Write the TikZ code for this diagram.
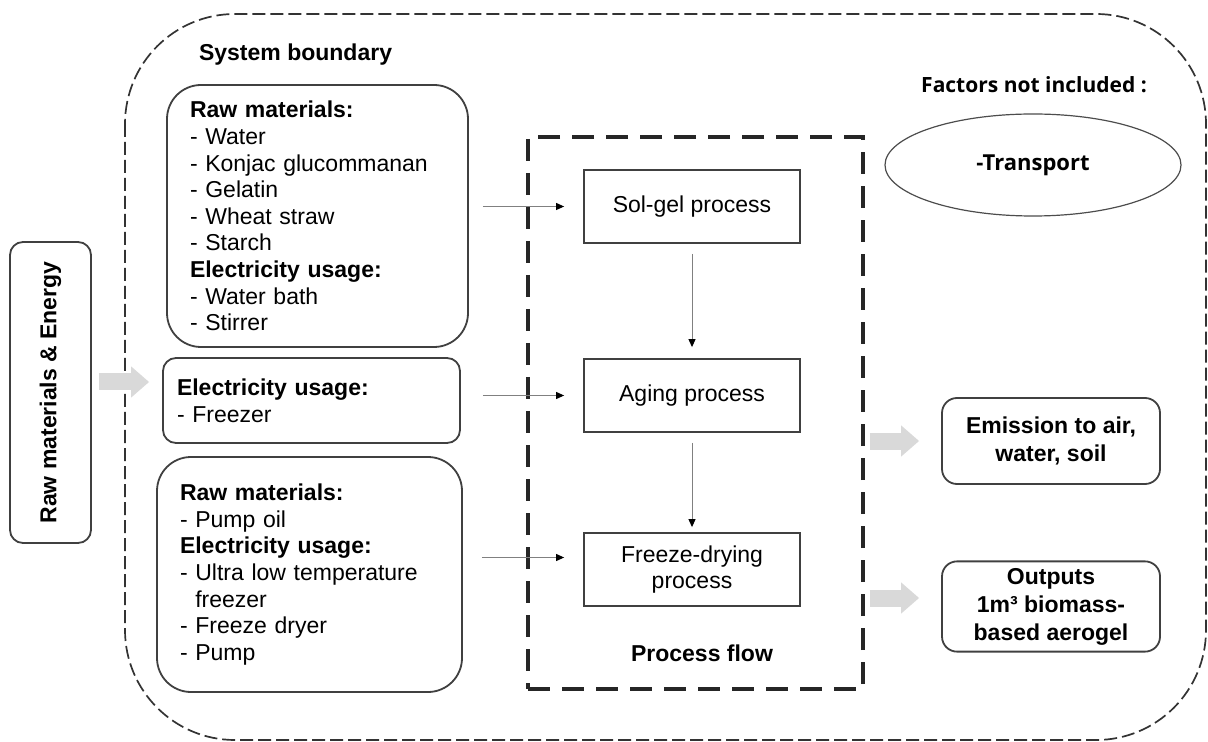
\documentclass[tikz,border=0pt]{standalone}
\usepackage{fontspec}
\setmainfont{Liberation Sans}
\newfontfamily\factorsfont{Open Sans}
\usetikzlibrary{arrows.meta}
\usetikzlibrary{shapes.geometric}
\definecolor{boxline}{RGB}{64,64,64}
\definecolor{fatgray}{RGB}{217,217,217}
\definecolor{thingray}{RGB}{128,128,128}
\newcommand{\bodyfont}{\fontsize{11.5}{13.3}\selectfont}
\newcommand{\headfont}{\fontsize{11.5}{14}\selectfont\bfseries}
\newcommand{\notefont}{\factorsfont\bfseries\fontsize{10.5}{12}\selectfont}
\tikzset{
    common/.style={draw=boxline, line width=0.9pt, font=\bodyfont},
    inbox/.style={common, rounded corners=17pt, align=left, inner xsep=11.5pt},
    outbox/.style={common, rounded corners=7.5pt, align=center, font=\headfont, minimum width=109pt, minimum height=43pt},
    stage/.style={common, rectangle, minimum width=108pt, minimum height=36.5pt, align=center},
    feed/.style={line width=0.5pt, thingray, -{Triangle[length=4pt, width=3.5pt, black]}},
    fat/.style={line width=8.5pt, fatgray, -{Triangle[length=9pt, width=15pt]}},
    boundary/.style={draw=black!80, line width=0.85pt, dash pattern=on 6.5pt off 2.5pt, rounded corners=55pt},
    flowframe/.style={draw=black!85, line width=1.6pt, dash pattern=on 11pt off 6pt, minimum width=167.5pt, minimum height=276pt}
}

\begin{document}
\begin{tikzpicture}[x=0.5pt, y=-0.5pt]
    \useasboundingbox (0,0) rectangle (1208,742);

    % system boundary
    \draw[boundary] (125,14) rectangle (1206,740);
    \node[anchor=west, font=\headfont] (sysboundary) at (192,55) {System boundary};

    % inputs
    \node[common, rounded corners=6.5pt, rotate=90, font=\headfont,
          minimum width=150.5pt, minimum height=40.5pt] (rawenergy) at (50.5,392.5) {Raw materials \& Energy};
    \node[inbox, text width=127.5pt, minimum height=131pt] (inputA) at (317.5,216)
        {\textbf{Raw materials:}\\- Water\\- Konjac glucommanan\\- Gelatin\\- Wheat straw\\- Starch\\
         \textbf{Electricity usage:}\\- Water bath\\- Stirrer};
    \node[inbox, rounded corners=6.5pt, inner xsep=7pt, text width=134.5pt, minimum height=42.5pt] (inputB) at (311.5,400.5)
        {\textbf{Electricity usage:}\\- Freezer};
    \node[inbox, text width=129.5pt, minimum height=117.5pt] (inputC) at (309.5,574.5)
        {\textbf{Raw materials:}\\- Pump oil\\\textbf{Electricity usage:}\\- Ultra low temperature\\
         \hphantom{- }freezer\\- Freeze dryer\\- Pump};

    % process flow
    \node[flowframe] (flow) at (695.5,413) {};
    \node[stage] (solgel) at (692,206.5) {Sol-gel process};
    \node[stage] (aging) at (692,395.5) {Aging process};
    \node[stage] (freeze) at (692,569.5) {Freeze-drying\\process};
    \node[font=\headfont] (flowlabel) at (702,653) {Process flow};

    % outside
    \node[font=\notefont] (factors) at (1034,85) {Factors not included :};
    \node[ellipse, draw=black!70, line width=0.6pt, minimum width=148pt, minimum height=51pt,
          font=\factorsfont\bfseries\fontsize{11}{13}\selectfont] (transport) at (1033,165) {-Transport};
    \node[outbox] (emission) at (1051,441) {Emission to air,\\water, soil};
    \node[outbox, minimum height=43.5pt] (outputs) at (1051,606.5) {Outputs\\1m³ biomass-\\based aerogel};

    \coordinate (feedrow) at (0,382);
    \coordinate (dryrow) at ([yshift=6pt]freeze.west);
    \coordinate (outrow) at ([yshift=4.25pt]outputs.west);

    % rawenergy is turned by 90 degrees, so its south anchor faces right
    \draw[fat, shorten <=3.5pt, shorten >=6.5pt] (rawenergy.south |- feedrow) -- (inputB.west |- feedrow);
    \draw[fat, shorten <=2.5pt, shorten >=11pt] (flow.east |- emission) -- (emission);
    \draw[fat, shorten <=2.5pt, shorten >=11pt] (flow.east |- outrow) -- (outrow);

    \draw[feed, shorten <=7pt, shorten >=9.5pt] (inputA.east |- solgel) -- (solgel);
    \draw[feed, shorten <=11pt, shorten >=9.5pt] (inputB.east |- aging) -- (aging);
    \draw[feed, shorten <=9.5pt, shorten >=9.5pt] (inputC.east |- dryrow) -- (dryrow);
    \draw[feed, shorten <=5pt, shorten >=5.5pt] (solgel) -- (aging);
    \draw[feed, shorten <=5pt, shorten >=2.5pt] (aging) -- (freeze);
\end{tikzpicture}
\end{document}
